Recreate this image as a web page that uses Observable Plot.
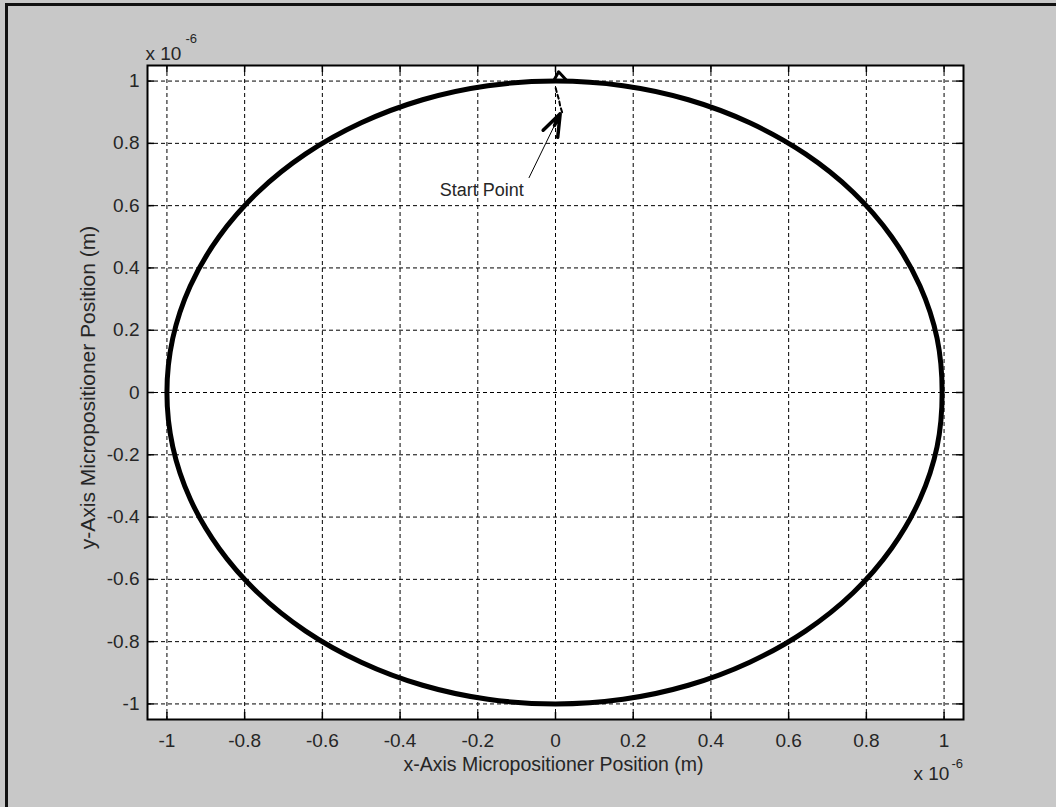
<!DOCTYPE html>
<html>
<head>
<meta charset="utf-8">
<script src="https://cdn.jsdelivr.net/npm/d3@7"></script>
<script src="https://cdn.jsdelivr.net/npm/@observablehq/plot@0.6"></script>
<style>
  html, body { margin: 0; padding: 0; background: #c8c8c8; }
  #wrap { position: relative; width: 1056px; height: 807px; overflow: hidden; background: #c8c8c8; }
  #border { position: absolute; left: 5px; top: 3px; width: 1200px; height: 1000px;
            border-top: 3px solid #111; border-left: 3px solid #111; pointer-events: none; }
</style>
</head>
<body>
<div id="wrap"><div id="border"></div></div>
<script>
// ---- data (values in units of 10^-6 m) ----
const xTicks = [-1, -0.8, -0.6, -0.4, -0.2, 0, 0.2, 0.4, 0.6, 0.8, 1];
const yTicks = [-1, -0.8, -0.6, -0.4, -0.2, 0, 0.2, 0.4, 0.6, 0.8, 1];

// circular trajectory
const pathX = [0.995, 0.982, 0.938, 0.865, 0.766, 0.643, 0.500, 0.342, 0.174, 0.000, -0.174, -0.342, -0.500, -0.643, -0.766, -0.866, -0.940, -0.985,
               -1.000, -0.985, -0.940, -0.866, -0.766, -0.643, -0.500, -0.342, -0.174, 0.000, 0.174, 0.342, 0.500, 0.643, 0.766, 0.865, 0.938, 0.982];
const pathY = [0.000, 0.174, 0.342, 0.500, 0.643, 0.766, 0.866, 0.940, 0.985, 1.000, 0.985, 0.940, 0.866, 0.766, 0.643, 0.500, 0.342, 0.174,
               0.000, -0.174, -0.342, -0.500, -0.643, -0.766, -0.866, -0.940, -0.985, -1.000, -0.985, -0.940, -0.866, -0.766, -0.643, -0.500, -0.342, -0.174];

// start transient (dashed) and small spike at the top
const startX = [0.017, 0.012, 0.009, 0.004, 0.000];
const startY = [0.900, 0.920, 0.940, 0.960, 0.980];
const spikeX = [-0.005, 0.008, 0.030];
const spikeY = [1.000, 1.030, 1.000];

// annotation
const noteText = ["Start Point"];
const noteX = [-0.19];
const noteY = [0.65];
const arrowX1 = [-0.068], arrowY1 = [0.69];
const arrowX2 = [0.012], arrowY2 = [0.895];

const xLabel = "x-Axis Micropositioner Position (m)";
const yLabel = "y-Axis Micropositioner Position (m)";
const expBase = "x 10";
const expPow = "-6";

// ---- build tables ----
const path = pathX.map((x, i) => ({x, y: pathY[i]}));
const start = startX.map((x, i) => ({x, y: startY[i]}));
const spike = spikeX.map((x, i) => ({x, y: spikeY[i]}));
const note = noteText.map((t, i) => ({t, x: noteX[i], y: noteY[i]}));
const arrow = arrowX1.map((x1, i) => ({x1, y1: arrowY1[i], x2: arrowX2[i], y2: arrowY2[i]}));

const W = 1056, H = 807, ML = 147, MR = 93, MT = 65, MB = 88;
const innerW = W - ML - MR, innerH = H - MT - MB;
const font = "'Liberation Sans', Arial, Helvetica, sans-serif";
const txt = "#262626";
const fmt = d => String(d);

const chart = Plot.plot({
  width: W, height: H,
  marginLeft: ML, marginRight: MR, marginTop: MT, marginBottom: MB,
  style: {background: "#c8c8c8", fontFamily: font, fontSize: "19px", color: txt, overflow: "visible"},
  x: {domain: [-1.05, 1.05], axis: null},
  y: {domain: [-1.05, 1.05], axis: null},
  marks: [
    Plot.frame({fill: "white", stroke: null}),
    Plot.ruleX(xTicks, {x: d => d, stroke: "black", strokeWidth: 1, strokeDasharray: "4,3"}),
    Plot.ruleY(yTicks, {y: d => d, stroke: "black", strokeWidth: 1, strokeDasharray: "4,3"}),
    Plot.line(path, {x: "x", y: "y", curve: "catmull-rom-closed", stroke: "black", strokeWidth: 5}),
    Plot.line(start, {x: "x", y: "y", stroke: "black", strokeWidth: 2, strokeDasharray: "4,3"}),
    Plot.line(spike, {x: "x", y: "y", stroke: "black", strokeWidth: 3}),
    Plot.arrow(arrow, {x1: "x1", y1: "y1", x2: "x2", y2: "y2", stroke: "black", strokeWidth: 1, headLength: 0}),
    Plot.arrow(arrow, {x1: "x1", y1: "y1", x2: "x2", y2: "y2", stroke: "black", strokeWidth: 3.5, headLength: 12, headAngle: 40, insetStart: 58}),
    Plot.text(note, {x: "x", y: "y", text: "t", fill: txt, fontSize: 18, fontFamily: font}),
    // inward ticks on all four sides
    Plot.tickX(xTicks, {x: d => d, insetTop: innerH - 7, stroke: "black", strokeWidth: 1.5}),
    Plot.tickX(xTicks, {x: d => d, insetBottom: innerH - 7, stroke: "black", strokeWidth: 1.5}),
    Plot.tickY(yTicks, {y: d => d, insetRight: innerW - 7, stroke: "black", strokeWidth: 1.5}),
    Plot.tickY(yTicks, {y: d => d, insetLeft: innerW - 7, stroke: "black", strokeWidth: 1.5}),
    Plot.frame({stroke: "black", strokeWidth: 2}),
    Plot.axisX({ticks: xTicks, tickSize: 0, tickPadding: 14, tickFormat: fmt, fill: txt, fontSize: 19, label: null}),
    Plot.axisY({ticks: yTicks, tickSize: 0, tickPadding: 8, tickFormat: fmt, fill: txt, fontSize: 19, label: null}),
    // axis titles
    Plot.text([xLabel], {frameAnchor: "bottom", text: d => d, textAnchor: "middle", dy: 51, dx: -2, fill: txt, fontSize: 19.5, fontFamily: font}),
    Plot.text([yLabel], {frameAnchor: "left", text: d => d, textAnchor: "middle", rotate: -90, dx: -59, dy: -5, fill: txt, fontSize: 21, fontFamily: font}),
    // exponent labels
    Plot.text([expBase], {frameAnchor: "top-left", text: d => d, textAnchor: "start", dx: -2, dy: -19, fill: txt, fontSize: 19, fontFamily: font}),
    Plot.text([expPow], {frameAnchor: "top-left", text: d => d, textAnchor: "start", dx: 38, dy: -32, fill: txt, fontSize: 13, fontFamily: font}),
    Plot.text([expBase], {frameAnchor: "bottom-right", text: d => d, textAnchor: "start", dx: -50, dy: 60, fill: txt, fontSize: 19, fontFamily: font}),
    Plot.text([expPow], {frameAnchor: "bottom-right", text: d => d, textAnchor: "start", dx: -12, dy: 48, fill: txt, fontSize: 13, fontFamily: font})
  ]
});
document.getElementById("wrap").insertBefore(chart, document.getElementById("border"));
</script>
</body>
</html>
